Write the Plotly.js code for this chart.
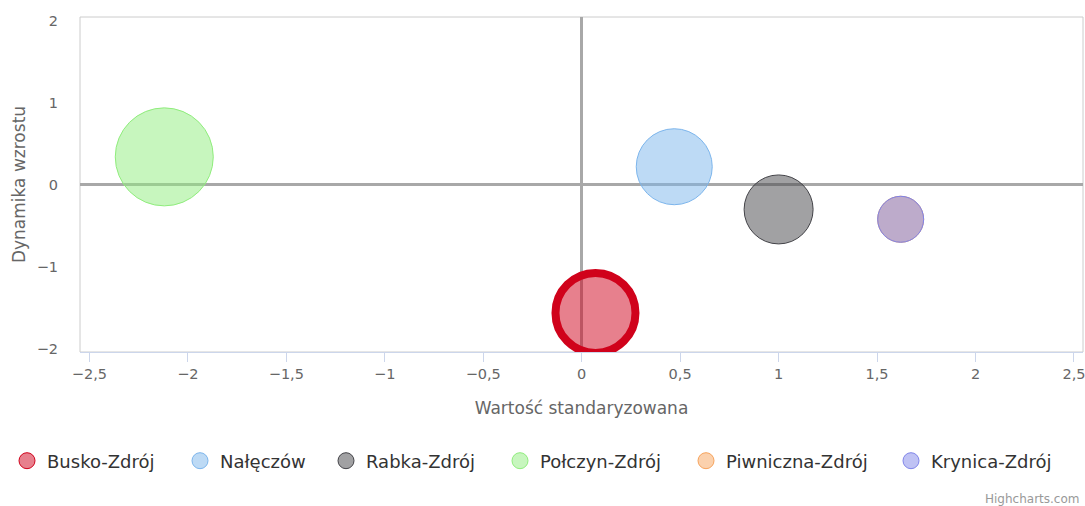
<!DOCTYPE html>
<html><head><meta charset="utf-8">
<script src="https://cdn.plot.ly/plotly-3.0.1.min.js"></script>
<style>html,body{margin:0;padding:0;background:#fff}#chart{width:1085px;height:506px}</style>
</head><body><div id="chart"></div>
<script>
// ---- data ----
const cities = ['Busko-Zdrój', 'Nałęczów', 'Rabka-Zdrój', 'Połczyn-Zdrój', 'Piwniczna-Zdrój', 'Krynica-Zdrój'];
const standardizedValue = [0.07, 0.47, 1.0, -2.12, 1.62, 1.62];
const growthDynamics = [-1.56, 0.22, -0.30, 0.34, -0.42, -0.42];
const bubbleZ = [80, 76, 69, 98, 46, 46];
const xTickValues = [-2.5, -2, -1.5, -1, -0.5, 0, 0.5, 1, 1.5, 2, 2.5];
const yTickValues = [-2, -1, 0, 1, 2];

// ---- styles ----
const seriesColors = ['#d0021b', '#7cb5ec', '#434348', '#90ed7d', '#f7a35c', '#8085e9'];
function rgba(hex, a) {
  const n = parseInt(hex.slice(1), 16);
  return `rgba(${(n >> 16) & 255},${(n >> 8) & 255},${n & 255},${a})`;
}
const legendSymbolCenters = [27, 200, 346, 520, 706, 911];
const FONT = 'DejaVu Sans, sans-serif';

const traces = [];
cities.forEach((name, i) => {
  const lg = i === 0 ? 'legend' : 'legend' + (i + 1);
  const isBusko = i === 0;
  traces.push({
    type: 'scatter', mode: 'markers', name: name,
    x: [standardizedValue[i]], y: [growthDynamics[i]],
    legend: lg, legendgroup: name, showlegend: !isBusko,
    marker: {
      size: [bubbleZ[i]], sizemode: 'diameter', sizeref: 1, opacity: 1,
      color: rgba(seriesColors[i], 0.5),
      line: {color: seriesColors[i], width: isBusko ? 8 : 1}
    },
    hoverinfo: 'name+x+y'
  });
  if (isBusko) {
    traces.push({
      type: 'scatter', mode: 'markers', name: name,
      x: [null], y: [null], legend: lg, legendgroup: name, showlegend: true,
      marker: {size: 16, opacity: 1, color: rgba(seriesColors[i], 0.5), line: {color: seriesColors[i], width: 1}}
    });
  }
});

const layout = {
  width: 1085, height: 506,
  margin: {l: 80, r: 2, t: 17, b: 154, pad: 0},
  paper_bgcolor: '#ffffff', plot_bgcolor: '#ffffff',
  separators: ', ',
  font: {family: FONT, color: '#666666'},
  xaxis: {
    range: [-2.548, 2.546], tickvals: xTickValues,
    showgrid: false, zeroline: true, zerolinecolor: '#a8a8a8', zerolinewidth: 2.5,
    showline: true, linecolor: '#ccd6eb', linewidth: 1,
    ticks: 'outside', ticklen: 9, tickcolor: '#ccd6eb', tickwidth: 1,
    ticklabeloverflow: 'allow',
    tickfont: {size: 14.5, color: '#666666', family: FONT},
    title: {text: 'Wartość standaryzowana', font: {size: 17, color: '#666666', family: FONT}, standoff: 20},
    fixedrange: true
  },
  yaxis: {
    range: [-2.036, 2.043], tickvals: yTickValues,
    showgrid: false, zeroline: true, zerolinecolor: '#a8a8a8', zerolinewidth: 2.5,
    showline: false, ticks: '', ticklabelstandoff: 21,
    tickfont: {size: 14.5, color: '#666666', family: FONT},
    title: {text: 'Dynamika wzrostu', font: {size: 17, color: '#666666', family: FONT}, standoff: 6},
    fixedrange: true
  },
  shapes: [{
    type: 'rect', xref: 'paper', yref: 'paper', x0: 0, x1: 1, y0: 0, y1: 1,
    line: {color: '#cccccc', width: 1}, fillcolor: 'rgba(0,0,0,0)', layer: 'below'
  }],
  annotations: [{
    text: 'Highcharts.com', xref: 'paper', yref: 'paper', x: 0.998, y: -0.4388,
    xanchor: 'right', yanchor: 'middle', showarrow: false,
    font: {size: 12, color: '#999999', family: FONT}
  }],
  showlegend: true
};
legendSymbolCenters.forEach((cx, i) => {
  const key = i === 0 ? 'legend' : 'legend' + (i + 1);
  layout[key] = {
    orientation: 'h', xref: 'container', yref: 'container',
    x: (cx - 20) / 1085, y: (506 - 461) / 506, xanchor: 'left', yanchor: 'middle',
    bgcolor: 'rgba(0,0,0,0)', borderwidth: 0, itemwidth: 30,
    font: {size: 18, color: '#333333', family: FONT}, itemclick: false, itemdoubleclick: false
  };
});

Plotly.newPlot('chart', traces, layout, {displayModeBar: false});
</script>
</body></html>
